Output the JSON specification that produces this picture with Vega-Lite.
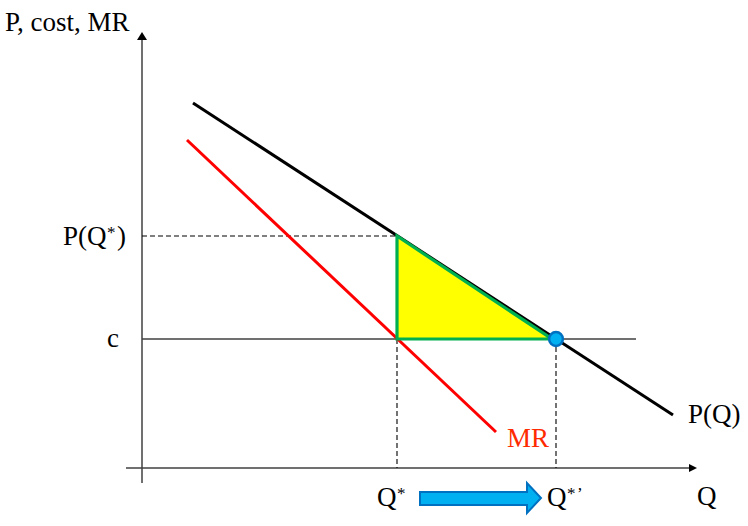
{
  "$schema": "https://vega.github.io/schema/vega-lite/v6.json",
  "width": 748,
  "height": 526,
  "autosize": {"type": "none"},
  "padding": 0,
  "background": "white",
  "config": {"view": {"stroke": null}},
  "encoding": {
    "x": {"field": "Q", "type": "quantitative", "scale": {"domain": [-142, 606], "nice": false, "zero": false}, "axis": null},
    "y": {"field": "P", "type": "quantitative", "scale": {"domain": [-58, 468], "nice": false, "zero": false}, "axis": null}
  },
  "layer": [
    {
      "data": {"values": [
        {"Q": 0, "P": -15, "Q2": 0, "P2": 432},
        {"Q": -16, "P": 0, "Q2": 550, "P2": 0}
      ]},
      "mark": {"type": "rule", "color": "#404040", "strokeWidth": 1.5},
      "encoding": {"x2": {"field": "Q2"}, "y2": {"field": "P2"}}
    },
    {
      "data": {"values": [{"Q": 0, "P": 129, "Q2": 494, "P2": 129}]},
      "mark": {"type": "rule", "color": "#404040", "strokeWidth": 1.3},
      "encoding": {"x2": {"field": "Q2"}, "y2": {"field": "P2"}}
    },
    {
      "data": {"values": [
        {"Q": 0, "P": 232, "Q2": 255, "P2": 232},
        {"Q": 255, "P": 129, "Q2": 255, "P2": 0},
        {"Q": 414, "P": 129, "Q2": 414, "P2": 0}
      ]},
      "mark": {"type": "rule", "color": "black", "strokeWidth": 1.1, "strokeDash": [5, 3]},
      "encoding": {"x2": {"field": "Q2"}, "y2": {"field": "P2"}}
    },
    {
      "data": {"values": [{"Q": 51, "P": 365}, {"Q": 531, "P": 53}]},
      "mark": {"type": "line", "color": "black", "strokeWidth": 3},
      "encoding": {}
    },
    {
      "data": {"values": [{"Q": 45, "P": 328}, {"Q": 354, "P": 36}]},
      "mark": {"type": "line", "color": "#ff0000", "strokeWidth": 3},
      "encoding": {}
    },
    {
      "data": {"values": [
        {"i": 1, "Q": 255, "P": 232},
        {"i": 2, "Q": 255, "P": 129},
        {"i": 3, "Q": 410, "P": 129}
      ]},
      "mark": {"type": "line", "interpolate": "linear-closed", "fill": "#ffff00", "stroke": "#00b050", "strokeWidth": 3.2, "strokeJoin": "miter"},
      "encoding": {"order": {"field": "i", "type": "quantitative"}}
    },
    {
      "data": {"values": [{"Q": 414, "P": 129}]},
      "mark": {"type": "point", "shape": "circle", "size": 190, "filled": true, "fill": "#00b0f0", "stroke": "#0070c0", "strokeWidth": 2.5, "opacity": 1}
    },
    {
      "data": {"values": [{"Q": 0, "P": 432}]},
      "mark": {"type": "point", "shape": "M-1,0.8L1,0.8L0,-0.8Z", "size": 100, "filled": true, "color": "black", "opacity": 1}
    },
    {
      "data": {"values": [{"Q": 551, "P": 0}]},
      "mark": {"type": "point", "shape": "M-0.8,-0.8L0.8,0L-0.8,0.8Z", "size": 100, "filled": true, "color": "black", "opacity": 1}
    },
    {
      "data": {"values": [
        {"i": 1, "Q": 278, "P": -24},
        {"i": 2, "Q": 385, "P": -24},
        {"i": 3, "Q": 385, "P": -15},
        {"i": 4, "Q": 399, "P": -30},
        {"i": 5, "Q": 385, "P": -45},
        {"i": 6, "Q": 385, "P": -37},
        {"i": 7, "Q": 278, "P": -37}
      ]},
      "mark": {"type": "line", "interpolate": "linear-closed", "fill": "#00b0f0", "stroke": "#0070c0", "strokeWidth": 2, "strokeJoin": "miter"},
      "encoding": {"order": {"field": "i", "type": "quantitative"}}
    },
    {
      "data": {"values": [
        {"label": "P, cost, MR", "Q": -137, "P": 437},
        {"label": "P(Q", "Q": -79, "P": 223},
        {"label": ")", "Q": -25, "P": 223},
        {"label": "c", "Q": -35, "P": 121},
        {"label": "Q", "Q": 235, "P": -38},
        {"label": "Q", "Q": 405, "P": -38},
        {"label": "Q", "Q": 555, "P": -37},
        {"label": "P(Q)", "Q": 546, "P": 45}
      ]},
      "mark": {"type": "text", "font": "Liberation Serif", "fontSize": 27, "align": "left", "baseline": "alphabetic", "color": "black"},
      "encoding": {"text": {"field": "label"}}
    },
    {
      "data": {"values": [
        {"label": "*", "Q": -35, "P": 230},
        {"label": "*", "Q": 255, "P": -31},
        {"label": "*", "Q": 425, "P": -31},
        {"label": "’", "Q": 435, "P": -31}
      ]},
      "mark": {"type": "text", "font": "Liberation Serif", "fontSize": 17, "align": "left", "baseline": "alphabetic", "color": "black"},
      "encoding": {"text": {"field": "label"}}
    },
    {
      "data": {"values": [{"label": "MR", "Q": 365, "P": 21}]},
      "mark": {"type": "text", "font": "Liberation Serif", "fontSize": 27, "align": "left", "baseline": "alphabetic", "color": "#ff2a00"},
      "encoding": {"text": {"field": "label"}}
    }
  ]
}
